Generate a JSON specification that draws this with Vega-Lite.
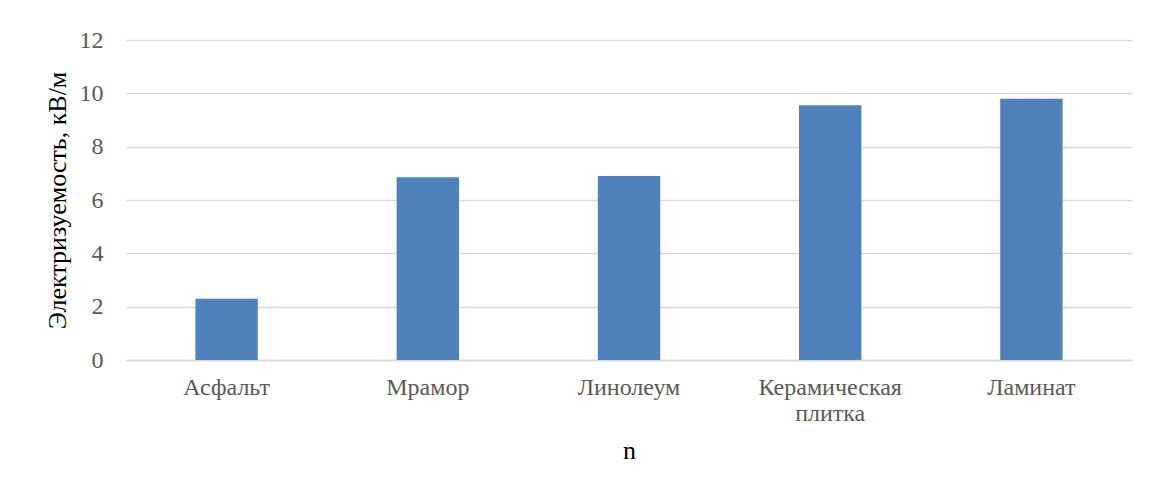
{
  "$schema": "https://vega.github.io/schema/vega-lite/v6.json",
  "autosize": "none",
  "width": 1006,
  "height": 320,
  "padding": {"left": 126, "top": 40, "right": 17, "bottom": 134},
  "background": "white",
  "config": {
    "view": {"stroke": null},
    "font": "Times New Roman, Liberation Serif, DejaVu Serif, serif"
  },
  "data": {
    "values": [
      {"material": "Асфальт", "value": 2.3},
      {"material": "Мрамор", "value": 6.85},
      {"material": "Линолеум", "value": 6.9},
      {"material": "Керамическая плитка", "value": 9.55},
      {"material": "Ламинат", "value": 9.8}
    ]
  },
  "mark": {"type": "bar", "color": "#4f81bd"},
  "encoding": {
    "x": {
      "field": "material",
      "type": "nominal",
      "sort": null,
      "scale": {"paddingInner": 0.69, "paddingOuter": 0.345},
      "axis": {
        "title": "n",
        "titleFont": "Times New Roman, Liberation Serif, serif",
        "titleFontSize": 26,
        "titleFontWeight": "normal",
        "titleColor": "#000000",
        "titlePadding": 12,
        "labelAngle": 0,
        "labelExpr": "split(datum.label, ' ')",
        "labelLineHeight": 26,
        "labelFont": "Times New Roman, Liberation Serif, serif",
        "labelFontSize": 24,
        "labelColor": "#595959",
        "labelPadding": 15,
        "ticks": false,
        "domain": true,
        "domainColor": "#d9d9d9",
        "domainWidth": 1.5
      }
    },
    "y": {
      "field": "value",
      "type": "quantitative",
      "scale": {"domain": [0, 12]},
      "axis": {
        "title": "Электризуемость, кВ/м",
        "titleFont": "Times New Roman, Liberation Serif, serif",
        "titleFontSize": 26,
        "titleFontWeight": "normal",
        "titleColor": "#000000",
        "titlePadding": 9,
        "values": [0, 2, 4, 6, 8, 10, 12],
        "labelFont": "Times New Roman, Liberation Serif, serif",
        "labelFontSize": 24,
        "labelColor": "#595959",
        "labelPadding": 23,
        "ticks": false,
        "domain": false,
        "grid": true,
        "gridColor": "#d9d9d9",
        "gridWidth": 1.5
      }
    }
  }
}
